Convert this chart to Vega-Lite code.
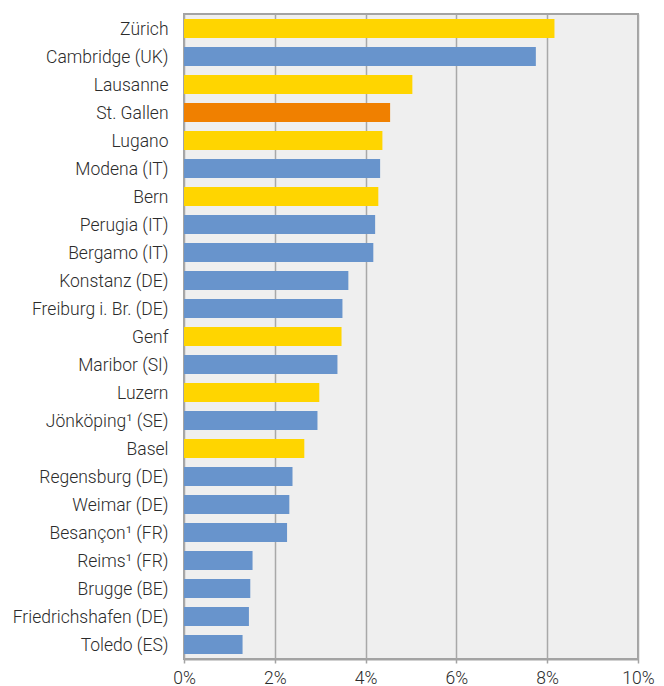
{
  "$schema": "https://vega.github.io/schema/vega-lite/v6.json",
  "width": 454,
  "height": 645,
  "autosize": {"type": "none"},
  "padding": {"left": 184, "top": 14, "right": 26, "bottom": 27},
  "background": "white",
  "config": {
    "view": {"fill": "#efefef", "stroke": "#a3a3a3", "strokeWidth": 2},
    "font": "Roboto"
  },
  "data": {
    "values": [
      {"city": "Zürich", "value": 0.0816, "group": "CH"},
      {"city": "Cambridge (UK)", "value": 0.0775, "group": "other"},
      {"city": "Lausanne", "value": 0.0503, "group": "CH"},
      {"city": "St. Gallen", "value": 0.0454, "group": "SG"},
      {"city": "Lugano", "value": 0.0437, "group": "CH"},
      {"city": "Modena (IT)", "value": 0.0432, "group": "other"},
      {"city": "Bern", "value": 0.0428, "group": "CH"},
      {"city": "Perugia (IT)", "value": 0.0421, "group": "other"},
      {"city": "Bergamo (IT)", "value": 0.0417, "group": "other"},
      {"city": "Konstanz (DE)", "value": 0.0362, "group": "other"},
      {"city": "Freiburg i. Br. (DE)", "value": 0.0349, "group": "other"},
      {"city": "Genf", "value": 0.0347, "group": "CH"},
      {"city": "Maribor (SI)", "value": 0.0338, "group": "other"},
      {"city": "Luzern", "value": 0.0298, "group": "CH"},
      {"city": "Jönköping¹ (SE)", "value": 0.0294, "group": "other"},
      {"city": "Basel", "value": 0.0265, "group": "CH"},
      {"city": "Regensburg (DE)", "value": 0.0239, "group": "other"},
      {"city": "Weimar (DE)", "value": 0.0232, "group": "other"},
      {"city": "Besançon¹ (FR)", "value": 0.0227, "group": "other"},
      {"city": "Reims¹ (FR)", "value": 0.0151, "group": "other"},
      {"city": "Brugge (BE)", "value": 0.0146, "group": "other"},
      {"city": "Friedrichshafen (DE)", "value": 0.0143, "group": "other"},
      {"city": "Toledo (ES)", "value": 0.0129, "group": "other"}
    ]
  },
  "mark": {"type": "bar"},
  "encoding": {
    "y": {
      "field": "city",
      "type": "nominal",
      "sort": null,
      "scale": {"paddingInner": 0.32, "paddingOuter": 0.18},
      "axis": {
        "title": null,
        "domain": false,
        "ticks": false,
        "labelPadding": 16,
        "labelOffset": 1.5,
        "labelFontSize": 17.5,
        "labelFont": "Roboto",
        "labelFontWeight": 300,
        "labelColor": "#2b2b2b"
      }
    },
    "x": {
      "field": "value",
      "type": "quantitative",
      "scale": {"domain": [0, 0.1], "nice": false},
      "axis": {
        "title": null,
        "values": [0, 0.02, 0.04, 0.06, 0.08, 0.1],
        "format": ".0%",
        "grid": true,
        "gridColor": "#a8a8a8",
        "gridWidth": 1.5,
        "domain": true,
        "domainColor": "#a3a3a3",
        "domainWidth": 2,
        "ticks": true,
        "tickColor": "#a3a3a3",
        "tickSize": 4,
        "tickWidth": 1.5,
        "labelPadding": 6,
        "labelFontSize": 17.5,
        "labelFont": "Roboto",
        "labelFontWeight": 300,
        "labelColor": "#2b2b2b",
        "labelFlush": false
      }
    },
    "color": {
      "field": "group",
      "type": "nominal",
      "scale": {"domain": ["CH", "other", "SG"], "range": ["#ffd500", "#6894cc", "#f08000"]},
      "legend": null
    }
  }
}
